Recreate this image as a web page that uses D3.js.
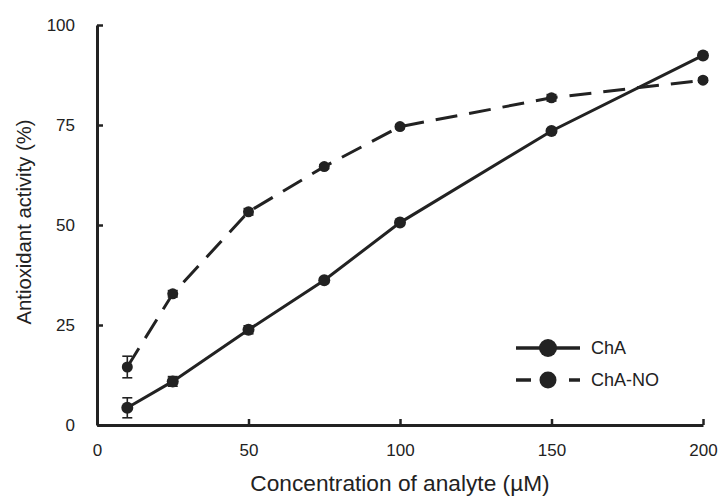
<!DOCTYPE html>
<html><head><meta charset="utf-8">
<script src="https://cdn.jsdelivr.net/npm/d3@7"></script>
<style>html,body{margin:0;padding:0;background:#fff;}svg{display:block;}text{font-family:"Liberation Sans",Arial,sans-serif;fill:#222;}</style>
</head><body><div id="chart"></div>
<script>
const concentrations = [10, 25, 50, 75, 100, 150, 200];
const chaValues = [4.3, 10.9, 23.8, 36.2, 50.6, 73.5, 92.4];
const chaErrors = [2.5, 1.2, 1.0, 0.5, 0.5, 0.5, 0.5];
const chaNoValues = [14.5, 32.8, 53.3, 64.6, 74.6, 81.8, 86.2];
const chaNoErrors = [2.7, 0.8, 0.8, 0.5, 0.5, 0.8, 0.5];
const xTicks = [0, 50, 100, 150, 200];
const yTicks = [0, 25, 50, 75, 100];
const seriesNames = ["ChA", "ChA-NO"];

const W = 719, H = 501;
const m = {left: 97, right: 16, top: 25, bottom: 76};
const svg = d3.select("#chart").append("svg").attr("width", W).attr("height", H);
svg.append("rect").attr("width", W).attr("height", H).attr("fill", "#fff");
const x = d3.scaleLinear().domain([0, 200]).range([m.left, W - m.right]);
const y = d3.scaleLinear().domain([0, 100]).range([H - m.bottom, m.top]);
const ink = "#222";

// axes
const xAxis = svg.append("g").attr("transform", `translate(0,${y(0)})`)
  .call(d3.axisBottom(x).tickValues(xTicks).tickSizeInner(-6).tickSizeOuter(0).tickPadding(19));
const yAxis = svg.append("g").attr("transform", `translate(${x(0)},0)`)
  .call(d3.axisLeft(y).tickValues(yTicks).tickSizeInner(-6).tickSizeOuter(0).tickPadding(22));
[xAxis, yAxis].forEach(g => {
  g.select(".domain").attr("stroke", ink).attr("stroke-width", 3);
  g.selectAll(".tick line").attr("stroke", ink).attr("stroke-width", 2.5);
  g.selectAll(".tick text").style("font-size", "17px").attr("fill", ink);
});
svg.append("text").attr("x", (x(0) + x(200)) / 2).attr("y", 491)
  .attr("text-anchor", "middle").style("font-size", "22.7px").text("Concentration of analyte (\u00B5M)");
svg.append("text").attr("transform", `translate(31,${(y(0) + y(100)) / 2 - 3}) rotate(-90)`)
  .attr("text-anchor", "middle").style("font-size", "20.3px").text("Antioxidant activity (%)");

const series = [
  {name: seriesNames[0], vals: chaValues, errs: chaErrors, dash: null, r: 6},
  {name: seriesNames[1], vals: chaNoValues, errs: chaNoErrors, dash: "22,12", r: 5.5}
];
const line = d3.line().x(d => x(d[0])).y(d => y(d[1]));
series.forEach(s => {
  const pts = concentrations.map((c, i) => [c, s.vals[i], s.errs[i]]);
  const g = svg.append("g");
  g.append("path").datum(pts).attr("d", line).attr("fill", "none")
    .attr("stroke", ink).attr("stroke-width", 3).attr("stroke-dasharray", s.dash);
  pts.forEach(p => {
    const cx = x(p[0]);
    g.append("line").attr("x1", cx).attr("x2", cx).attr("y1", y(p[1] - p[2])).attr("y2", y(p[1] + p[2]))
      .attr("stroke", ink).attr("stroke-width", 1.6);
    [p[1] - p[2], p[1] + p[2]].forEach(v => g.append("line").attr("x1", cx - 5).attr("x2", cx + 5)
      .attr("y1", y(v)).attr("y2", y(v)).attr("stroke", ink).attr("stroke-width", 1.6));
  });
  g.selectAll("circle").data(pts).join("circle").attr("cx", d => x(d[0])).attr("cy", d => y(d[1]))
    .attr("r", s.r).attr("fill", ink);
});

// legend
const lg = svg.append("g");
series.forEach((s, i) => {
  const ly = 348 + i * 32;
  if (s.dash) {
    lg.append("line").attr("x1", 516).attr("x2", 531).attr("y1", ly).attr("y2", ly).attr("stroke", ink).attr("stroke-width", 3.5);
    lg.append("line").attr("x1", 569).attr("x2", 580).attr("y1", ly).attr("y2", ly).attr("stroke", ink).attr("stroke-width", 3.5);
  } else {
    lg.append("line").attr("x1", 516).attr("x2", 580).attr("y1", ly).attr("y2", ly).attr("stroke", ink).attr("stroke-width", 3.5);
  }
  lg.append("circle").attr("cx", 548).attr("cy", ly).attr("r", i === 0 ? 9 : 8.5).attr("fill", ink);
  lg.append("text").attr("x", 591).attr("y", ly).attr("dy", "0.35em").style("font-size", "18px").text(s.name);
});
</script></body></html>
